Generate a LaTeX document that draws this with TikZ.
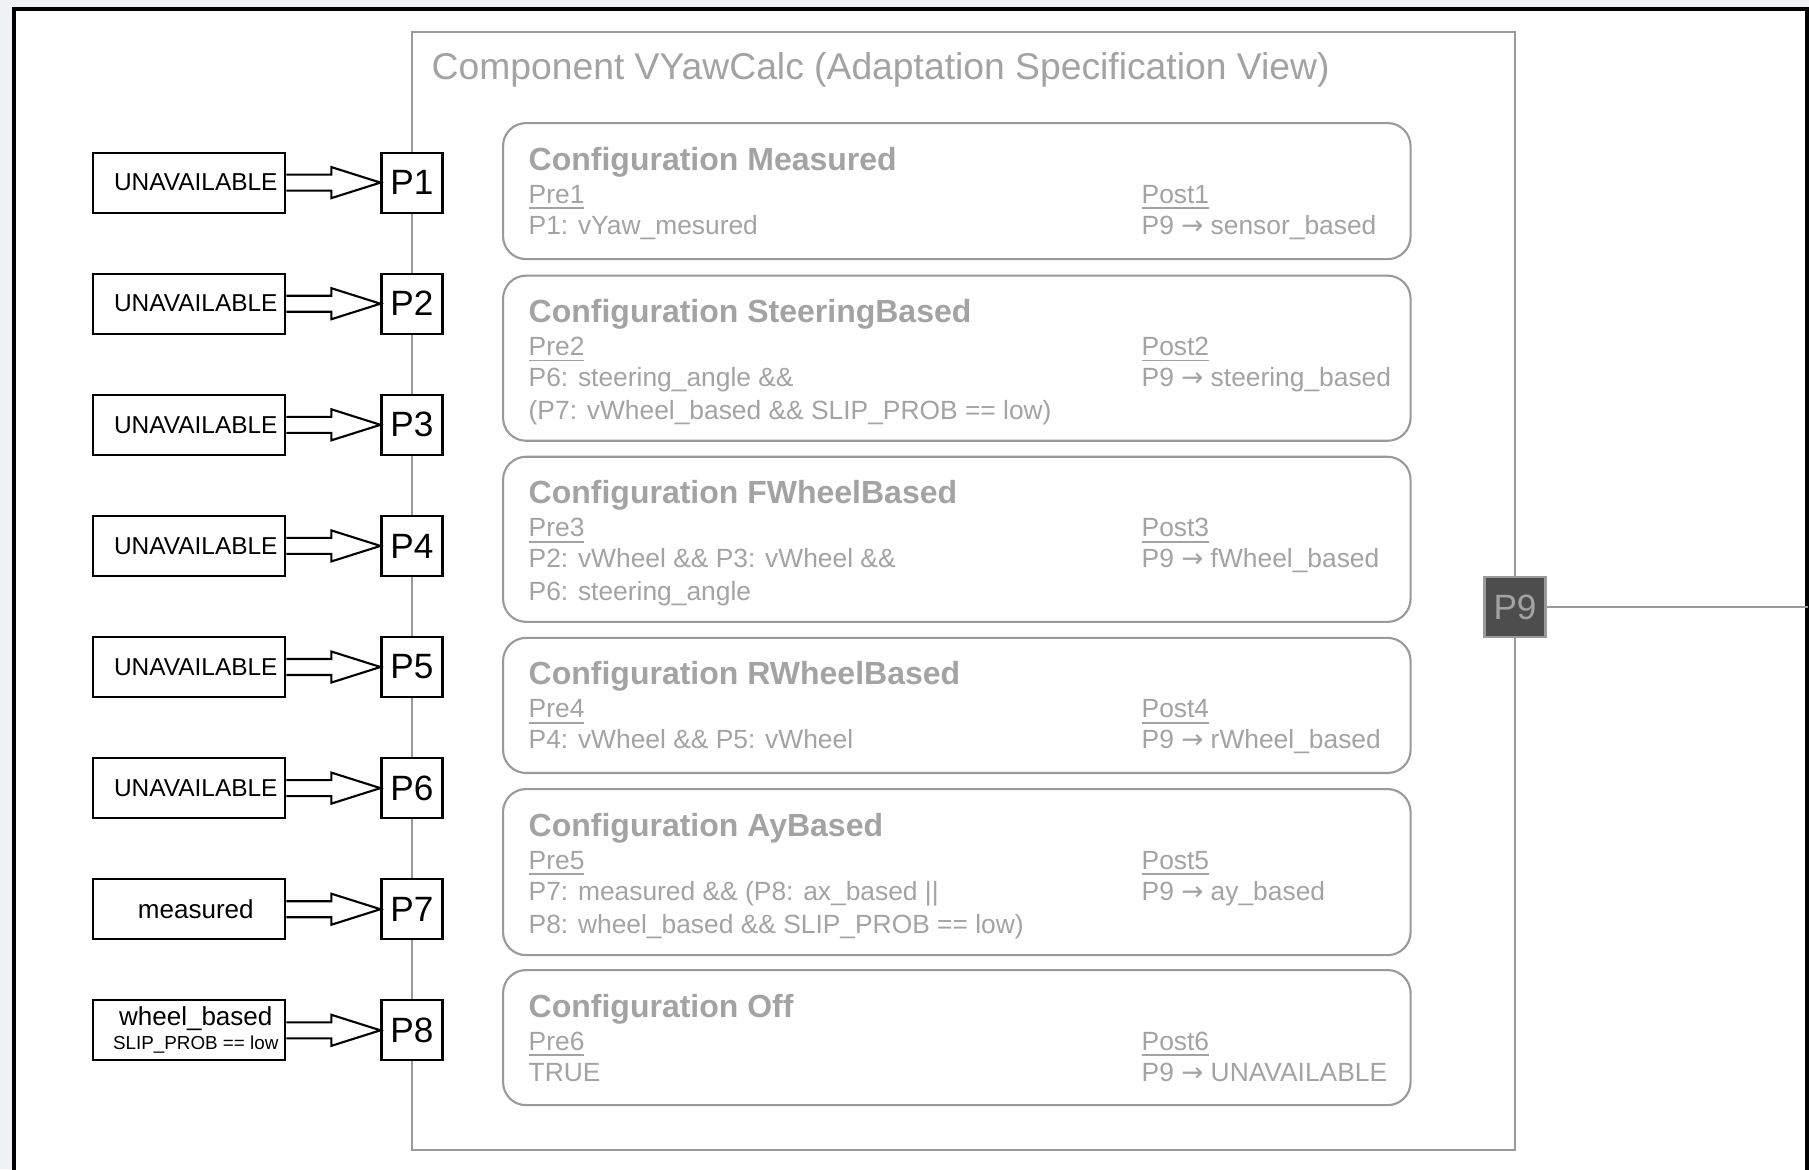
\documentclass[tikz,border=0pt]{standalone}
\usepackage{fontspec}
\setmainfont{Liberation Sans}
\newfontfamily\arrowfont{DejaVu Sans}
\usepackage{tikz}
\usetikzlibrary{positioning,calc}

\definecolor{txtgray}{HTML}{A3A3A3}
\definecolor{linegray}{HTML}{9A9A9A}
\definecolor{portdark}{HTML}{4D4D4D}
\definecolor{outbg}{HTML}{EEF2F4}

\tikzset{
  srcbox/.style={draw, line width=0.6pt, minimum width=1.92cm, minimum height=0.6cm, inner sep=0pt, align=center},
  portbox/.style={draw, fill=white, line width=0.6pt, minimum width=0.61cm, minimum height=0.6cm, inner sep=0pt, font=\fontsize{10}{11}\selectfont},
  cfgbox/.style={draw=linegray, line width=0.6pt, rounded corners=0.23cm, minimum width=9.07cm, inner sep=0pt},
  cfgtitle/.style={anchor=base west, inner sep=0pt, text=txtgray, font=\fontsize{9.1}{10}\bfseries\selectfont},
  cfgtext/.style={anchor=base west, inner sep=0pt, text=txtgray, font=\fontsize{7.5}{9}\selectfont},
}

\begin{document}
\begin{tikzpicture}[x=0.01cm, y=-0.01cm]
    \useasboundingbox (0,0) rectangle (1809,1169);
    \clip (0,0) rectangle (1809,1169);
    \fill[outbg] (0,0) rectangle (1809,1169);

    % Outer frame
    \draw[line width=1.4pt, fill=white] (14,9) rectangle (1807.5,1190);

    % Component
    \node[draw=linegray, line width=0.6pt, minimum width=11.03cm, minimum height=11.18cm, inner sep=0pt] (comp) at (963.5,591) {};
    \node[anchor=west, inner sep=0pt, text=txtgray, font=\fontsize{10.6}{12}\selectfont] (compname) at (431,69.5) {Component VYawCalc (Adaptation Specification View)};

    % Configurations
    \foreach \cname/\ctop/\cht/\ctitle/\preA/\preB/\post [count=\i] in {
        meas/122/1.36cm/Measured/{P1: vYaw\_mesured}/{}/{sensor\_based},
        steer/274.6/1.65cm/SteeringBased/{P6: steering\_angle \&\&}/{(P7: vWheel\_based \&\& SLIP\_PROB == low)}/{steering\_based},
        fwheel/455.7/1.65cm/FWheelBased/{P2: vWheel \&\& P3: vWheel \&\&}/{P6: steering\_angle}/{fWheel\_based},
        rwheel/636.8/1.35cm/RWheelBased/{P4: vWheel \&\& P5: vWheel}/{}/{rWheel\_based},
        ay/788/1.66cm/AyBased/{P7: measured \&\& (P8: ax\_based ||}/{P8: wheel\_based \&\& SLIP\_PROB == low)}/{ay\_based},
        off/969/1.35cm/Off/{TRUE}/{}/{UNAVAILABLE}}{
        \node[cfgbox, minimum height=\cht, anchor=north west] (\cname) at (502,\ctop) {};
        \node[cfgtitle] (\cname-title) at ($(\cname.north west)+(26,48)$) {Configuration \ctitle};
        \node[cfgtext] (\cname-pre) at ($(\cname.north west)+(26,81)$) {\underline{Pre\i}};
        \node[cfgtext] (\cname-preA) at ($(\cname.north west)+(26,112)$) {\preA};
        \node[cfgtext] (\cname-preB) at ($(\cname.north west)+(26,145)$) {\preB};
        \node[cfgtext] (\cname-post) at ($(\cname.north west)+(639,81)$) {\underline{Post\i}};
        \node[cfgtext] (\cname-postA) at ($(\cname.north west)+(639,112)$) {P9 {\arrowfont →} \post};
    }

    % Input ports
    \foreach \i in {1,...,8}{
        \node[portbox] (p\i) at (412,61.5+121.1*\i) {P\i};
    }

    % Port values
    \foreach \i in {1,...,6}{
        \node[srcbox, left=0.94cm of p\i, font=\fontsize{6.95}{7}\selectfont] (s\i) {\hspace*{0.13cm}UNAVAILABLE};
    }
    \node[srcbox, left=0.94cm of p7, font=\fontsize{7.4}{8}\selectfont] (s7) {\hspace*{0.13cm}measured};
    \node[srcbox, left=0.94cm of p8, font=\fontsize{7.4}{6.8}\selectfont] (s8) {\hspace*{0.13cm}wheel\_based\\{\fontsize{5.35}{6.8}\selectfont\hspace*{0.13cm}SLIP\_PROB == low}};

    % Block arrows
    \foreach \i in {1,...,8}{
        \draw[line width=0.6pt] (s\i.east) ++(0,8) -- ($(p\i.west)+(-49,8)$) -- ++(0,7.5) -- (p\i.west)
            -- ($(p\i.west)+(-49,-15.5)$) -- ++(0,7.5) -- ($(s\i.east)+(0,-8)$);
    }

    % Output port
    \node[portbox, fill=portdark, draw=linegray, text=txtgray] (p9) at (1515,607) {P9};
    \coordinate (p9out) at (1807.5,607);
    \draw[linegray, line width=0.6pt] (p9) -- (p9out);
\end{tikzpicture}
\end{document}
